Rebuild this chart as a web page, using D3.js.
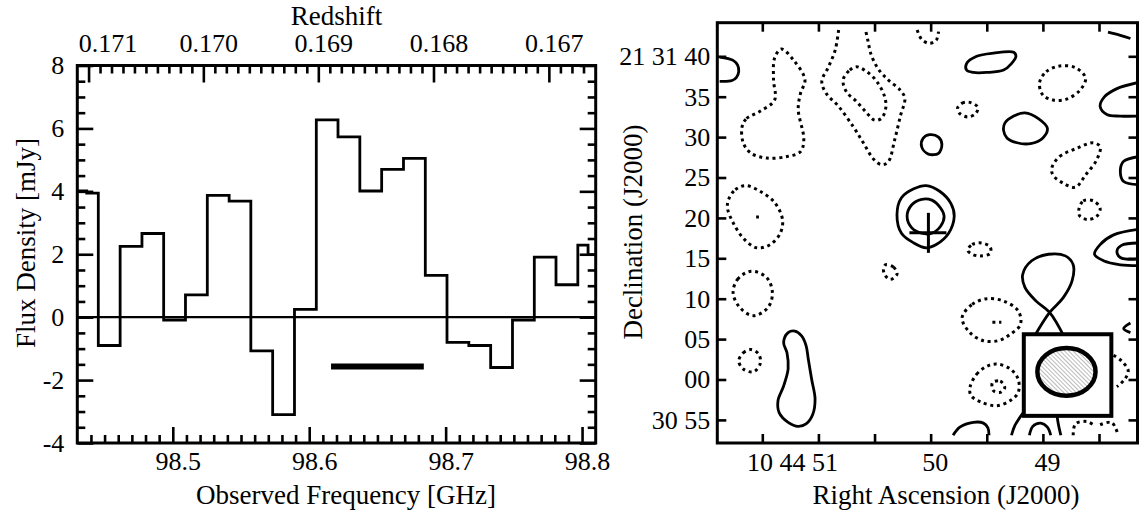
<!DOCTYPE html>
<html><head><meta charset="utf-8">
<script src="https://cdn.jsdelivr.net/npm/d3@7"></script>
<style>
body{margin:0;background:#fff}
svg text{font-family:"Liberation Serif","Times New Roman",serif;fill:#000;font-size:26px}
svg text.title{font-size:27px}
</style></head><body>
<svg id="c" width="1140" height="512"></svg>
<script>
// ---------------- LEFT PANEL DATA (spectrum) ----------------
const restFreqCO = 115.2712; // GHz, CO(1-0)
const freqEdges = [98.430, 98.4369, 98.4454, 98.4614, 98.4774, 98.4933, 98.5093, 98.5253, 98.5413, 98.5572,
  98.5732, 98.5892, 98.6052, 98.6211, 98.6371, 98.6531, 98.6691, 98.6851, 98.7010, 98.7170, 98.7330,
  98.7490, 98.7650, 98.7809, 98.7969, 98.8044, 98.810];
const fluxValues = [4.01, 3.94, -0.90, 2.25, 2.66, -0.09, 0.71, 3.87, 3.69, -1.07, -3.10, 0.25, 6.27,
  5.73, 4.01, 4.70, 5.05, 1.33, -0.80, -0.90, -1.60, -0.09, 1.91, 1.03, 2.29, 1.99];
const lineRange = [98.616, 98.684];
const lineRangeLevel = -1.57;
const freqDomain = [98.430, 98.810];
const fluxDomain = [-4, 8];
const freqMajor = [98.5, 98.6, 98.7, 98.8];
const fluxMajor = [-4, -2, 0, 2, 4, 6, 8];
const redshiftMajor = [0.171, 0.170, 0.169, 0.168, 0.167];
const redshiftLabels = ["0.171", "0.170", "0.169", "0.168", "0.167"];

// ---------------- RIGHT PANEL DATA (map) ----------------
// RA in seconds of 10h44m, Dec in arcsec offset from 21d31m00s
const raDomain = [51.901, 48.157];
const decDomain = [-7.86, 44.16];
const raMajor = [51, 50, 49];
const raLabels = ["10 44 51", "50", "49"];
const raMinor = [51.5, 50.5, 49.5, 48.5];
const decTicks = [40, 35, 30, 25, 20, 15, 10, 5, 0, -5];
const decLabels = ["21 31 40", "35", "30", "25", "20", "15", "10", "05", "00", "30 55"];
const sourcePos = [50.02, 18.15];
const beamCenter = [48.79, 0.95];
const beamFWHM = [7.2, 5.9];
const beamBox = [[49.17, 5.6], [48.39, -4.5]];

const positiveContours = [
 {closed:false, pts:[[51.88,39.9],[51.76,39.5],[51.72,38.9],[51.71,38.1],[51.73,37.4],[51.77,37.0],[51.88,36.9]]},
 {closed:true, pts:[[49.68,39.1],[49.59,40.0],[49.44,40.4],[49.26,40.5],[49.24,40.0],[49.28,39.1],[49.35,38.3],[49.50,38.0],[49.62,38.0],[49.68,38.3]]},
 {closed:false, pts:[[48.42,43.0],[48.31,42.6],[48.22,42.2]]},
 {closed:false, pts:[[48.14,36.8],[48.34,36.0],[48.45,35.0],[48.49,33.8],[48.43,32.8],[48.31,32.6],[48.14,32.6]]},
 {closed:true, pts:[[49.34,31.7],[49.26,32.6],[49.16,33.0],[49.04,32.3],[48.96,31.1],[49.00,29.9],[49.11,29.2],[49.23,29.3],[49.32,29.9],[49.35,30.8]]},
 {closed:true, pts:[[50.07,29.8],[50.01,30.3],[49.93,30.0],[49.90,29.1],[49.93,28.0],[50.02,27.9],[50.08,28.8]]},
 {closed:false, pts:[[48.14,27.6],[48.28,27.0],[48.31,25.8],[48.28,24.5],[48.14,24.1]]},
 {closed:true, pts:[[50.30,20.4],[50.26,22.5],[50.15,23.6],[50.04,24.0],[49.92,23.3],[49.82,21.8],[49.79,20.2],[49.84,18.1],[49.95,16.7],[50.04,16.3],[50.15,16.9],[50.26,18.1]]},
 {closed:true, pts:[[50.21,20.2],[50.17,21.6],[50.08,22.3],[49.99,22.2],[49.91,21.2],[49.88,20.2],[49.91,19.0],[49.99,18.1],[50.08,18.1],[50.17,18.8]]},
 {closed:false, pts:[[48.14,18.6],[48.37,17.9],[48.49,16.7],[48.54,15.5],[48.46,14.7],[48.31,14.2],[48.14,14.1]]},
 {closed:false, pts:[[48.14,16.9],[48.30,16.6],[48.34,15.9],[48.31,15.1],[48.14,14.9]]},
 {closed:false, pts:[[49.09,5.0],[48.94,8.3],[48.82,10.1],[48.74,12.2],[48.73,14.2],[48.80,15.3],[48.95,15.5],[49.10,14.7],[49.18,13.0],[49.16,11.4],[49.06,9.7],[48.94,8.3],[48.80,5.0]]},
 {closed:false, pts:[[48.22,7.0],[48.28,6.3],[48.22,5.8]]},
 {closed:true, pts:[[51.31,4.6],[51.27,5.8],[51.21,6.0],[51.15,5.4],[51.11,4.2],[51.09,2.5],[51.06,0.0],[51.03,-2.4],[51.05,-4.3],[51.11,-5.5],[51.18,-5.8],[51.27,-5.3],[51.35,-4.1],[51.36,-2.6],[51.31,-0.8],[51.27,1.3],[51.28,3.3]]},
 {closed:false, pts:[[49.80,-6.9],[49.74,-5.9],[49.62,-5.3],[49.53,-5.4],[49.49,-6.0],[49.48,-6.9]]},
 {closed:false, pts:[[49.17,-4.0],[49.25,-5.7],[49.28,-6.9]]},
 {closed:false, pts:[[49.12,-6.9],[49.09,-5.8],[49.02,-5.4],[48.96,-5.9],[48.93,-6.9]]},
 {closed:false, pts:[[48.88,-4.0],[48.86,-5.7],[48.84,-6.9]]}
];
const negativeContours = [
 {closed:false, pts:[[50.82,43.25],[50.85,40.8],[50.91,38.7],[50.97,36.9],[50.93,35.4],[50.82,33.8],[50.69,31.3],[50.60,29.3],[50.51,27.3],[50.44,26.6],[50.38,26.9],[50.32,29.7],[50.27,32.6],[50.23,34.8],[50.27,35.8],[50.38,37.1],[50.47,38.5],[50.53,40.2],[50.56,42.0],[50.58,43.25]]},
 {closed:true, pts:[[50.78,37.1],[50.72,38.3],[50.66,38.7],[50.57,38.1],[50.48,36.9],[50.41,35.0],[50.40,33.6],[50.44,32.3],[50.50,32.1],[50.57,33.0],[50.66,34.4],[50.75,35.6]]},
 {closed:true, pts:[[51.68,31.3],[51.64,32.3],[51.52,33.2],[51.39,34.6],[51.40,37.1],[51.39,39.8],[51.33,40.9],[51.22,39.5],[51.12,37.1],[51.16,35.4],[51.18,33.4],[51.13,29.7],[51.16,28.2],[51.28,27.6],[51.46,27.4],[51.60,28.0],[51.67,29.3]]},
 {closed:false, pts:[[50.12,43.25],[50.08,42.1],[50.01,41.6],[49.95,42.0],[49.93,43.05]]},
 {closed:true, pts:[[49.76,33.6],[49.72,34.2],[49.65,34.3],[49.58,33.7],[49.60,32.9],[49.67,32.5],[49.74,32.9]]},
 {closed:true, pts:[[49.03,36.7],[48.97,38.1],[48.85,38.8],[48.71,38.6],[48.62,37.3],[48.67,35.8],[48.79,34.7],[48.91,34.6],[49.00,35.2]]},
 {closed:true, pts:[[48.92,26.2],[48.85,27.6],[48.70,28.6],[48.55,29.3],[48.49,28.8],[48.52,27.2],[48.62,25.3],[48.71,23.8],[48.82,24.3],[48.91,25.3]]},
 {closed:true, pts:[[48.68,21.0],[48.64,22.1],[48.55,22.1],[48.49,21.2],[48.52,20.2],[48.60,19.8],[48.67,20.2]]},
 {closed:true, pts:[[51.80,22.3],[51.74,23.5],[51.65,24.0],[51.52,23.3],[51.39,21.9],[51.32,19.8],[51.34,18.1],[51.43,16.7],[51.55,16.3],[51.67,17.5],[51.76,19.4],[51.81,21.2]]},
 {closed:false, pts:[[51.555,20.1],[51.53,20.1]]},
 {closed:true, pts:[[49.67,16.0],[49.63,16.7],[49.55,16.9],[49.47,16.4],[49.47,15.6],[49.56,15.3],[49.63,15.5]]},
 {closed:true, pts:[[50.40,14.2],[50.33,13.9],[50.30,13.0],[50.36,12.4],[50.41,13.0],[50.42,13.7]]},
 {closed:true, pts:[[51.76,10.7],[51.72,12.4],[51.60,13.4],[51.46,12.6],[51.41,10.7],[51.45,8.9],[51.58,7.9],[51.70,8.9]]},
 {closed:true, pts:[[49.72,7.65],[49.63,9.3],[49.50,10.0],[49.35,9.7],[49.22,8.5],[49.20,6.8],[49.29,5.6],[49.40,4.8],[49.53,4.8],[49.65,5.8]]},
 {closed:false, pts:[[49.45,7.1],[49.37,7.1]]},
 {closed:true, pts:[[51.71,2.3],[51.67,3.3],[51.60,3.7],[51.53,3.1],[51.52,1.9],[51.58,0.95],[51.67,1.3]]},
 {closed:true, pts:[[49.65,-1.0],[49.59,0.66],[49.49,1.7],[49.40,1.9],[49.29,1.3],[49.22,0.04],[49.22,-1.6],[49.29,-2.6],[49.41,-3.25],[49.55,-2.8],[49.64,-2.0]]},
 {closed:true, pts:[[49.45,-0.4],[49.38,-0.2],[49.34,-1.0],[49.38,-1.6],[49.44,-1.4]]},
 {closed:false, pts:[[48.37,3.0],[48.30,2.3],[48.24,1.1],[48.27,0.04],[48.34,-0.9]]},
 {closed:false, pts:[[48.73,-6.9],[48.71,-5.5],[48.61,-5.2],[48.54,-5.7]]},
 {closed:false, pts:[[48.49,-5.6],[48.39,-5.3],[48.35,-6.1],[48.33,-6.9]]}
];

// ---------------- DRAWING ----------------
const svg = d3.select("#c");
const defs = svg.append("defs");
const hatch = defs.append("pattern").attr("id","hatch").attr("patternUnits","userSpaceOnUse")
  .attr("width",3).attr("height",3).attr("patternTransform","rotate(-45)");
hatch.append("rect").attr("width",3).attr("height",3).attr("fill","#fff");
hatch.append("line").attr("x1",0).attr("y1",0).attr("x2",0).attr("y2",3).attr("stroke","#777").attr("stroke-width",1);

function styleAxis(g, w){
  g.select(".domain").remove();
  g.selectAll(".tick line").attr("stroke","#000").attr("stroke-width",w);
  g.selectAll(".tick text").attr("font-family",null).attr("font-size",null).attr("fill","#000");
  g.attr("font-family",null).attr("font-size",null);
}

// ===== Left panel =====
const L = {x0:77.3, x1:595.7, y0:65.5, y1:443};
const xF = d3.scaleLinear().domain(freqDomain).range([L.x0, L.x1]);
const yF = d3.scaleLinear().domain(fluxDomain).range([L.y1, L.y0]);
const gL = svg.append("g");
defs.append("clipPath").attr("id","clipL").append("rect")
  .attr("x",L.x0).attr("y",L.y0).attr("width",L.x1-L.x0).attr("height",L.y1-L.y0);

const freqMinor = d3.range(98.44, 98.805, 0.01).filter(v => !freqMajor.some(m => Math.abs(m-v)<1e-6));
const fluxMinor = d3.range(-3.5, 8, 0.5).filter(v => Math.abs(v - Math.round(v/2)*2) > 1e-6);
const zMinor = d3.range(0.1665, 0.17115, 0.0001).filter(z => !redshiftMajor.some(m => Math.abs(m-z)<1e-7))
  .map(z => restFreqCO/(1+z)).filter(f => f > freqDomain[0]+0.002 && f < freqDomain[1]-0.002);

// bottom
let a = gL.append("g").attr("transform",`translate(0,${L.y1})`)
  .call(d3.axisBottom(xF).tickValues(freqMajor).tickSize(-16).tickPadding(9).tickFormat(d3.format(".1f")));
styleAxis(a, 2.6); a.selectAll(".tick text").attr("dx",5);
a = gL.append("g").attr("transform",`translate(0,${L.y1})`)
  .call(d3.axisBottom(xF).tickValues(freqMinor).tickSize(-8).tickFormat(()=>""));
styleAxis(a, 2.6);
// top (redshift)
a = gL.append("g").attr("transform",`translate(0,${L.y0})`)
  .call(d3.axisTop(xF).tickValues(redshiftMajor.map(z => restFreqCO/(1+z))).tickSize(-17).tickPadding(14)
    .tickFormat((d,i) => redshiftLabels[i]));
styleAxis(a, 2.6);
a.selectAll(".tick text").each(function(d){
  const t = d3.select(this);
  const xc = xF(d) + 5, half = this.getComputedTextLength()/2;
  if (xc - half < L.x0) t.attr("text-anchor","start").attr("x", L.x0 + 1 - xF(d));
  else t.attr("dx",5);
});
a = gL.append("g").attr("transform",`translate(0,${L.y0})`)
  .call(d3.axisTop(xF).tickValues(zMinor).tickSize(-8).tickFormat(()=>""));
styleAxis(a, 2.6);
// left
a = gL.append("g").attr("transform",`translate(${L.x0},0)`)
  .call(d3.axisLeft(yF).tickValues(fluxMajor).tickSize(-16).tickPadding(13).tickFormat(d => String(d)));
styleAxis(a, 2.6);
a = gL.append("g").attr("transform",`translate(${L.x0},0)`)
  .call(d3.axisLeft(yF).tickValues(fluxMinor).tickSize(-8).tickFormat(()=>""));
styleAxis(a, 2.6);
// right
a = gL.append("g").attr("transform",`translate(${L.x1},0)`)
  .call(d3.axisRight(yF).tickValues(fluxMajor).tickSize(-16).tickFormat(()=>""));
styleAxis(a, 2.6);
a = gL.append("g").attr("transform",`translate(${L.x1},0)`)
  .call(d3.axisRight(yF).tickValues(fluxMinor).tickSize(-8).tickFormat(()=>""));
styleAxis(a, 2.6);

// zero line
gL.append("line").attr("x1",xF(freqDomain[0])).attr("x2",xF(freqDomain[1]))
  .attr("y1",yF(0)).attr("y2",yF(0)).attr("stroke","#000").attr("stroke-width",2.4);
// histogram
const stepPts = fluxValues.map((v,i) => [freqEdges[i], v]);
stepPts.push([freqEdges[freqEdges.length-1], fluxValues[fluxValues.length-1]]);
gL.append("path").attr("clip-path","url(#clipL)")
  .attr("d", d3.line().x(d => xF(d[0])).y(d => yF(d[1])).curve(d3.curveStepAfter)(stepPts))
  .attr("fill","none").attr("stroke","#000").attr("stroke-width",2.8).attr("stroke-linejoin","miter");
// line range bar
gL.append("line").attr("x1",xF(lineRange[0])).attr("x2",xF(lineRange[1]))
  .attr("y1",yF(lineRangeLevel)).attr("y2",yF(lineRangeLevel)).attr("stroke","#000").attr("stroke-width",6);
// frame
gL.append("rect").attr("x",L.x0).attr("y",L.y0).attr("width",L.x1-L.x0).attr("height",L.y1-L.y0)
  .attr("fill","none").attr("stroke","#000").attr("stroke-width",3);
// titles
gL.append("text").attr("class","title").attr("x",(L.x0+L.x1)/2).attr("y",25).attr("text-anchor","middle").text("Redshift");
gL.append("text").attr("class","title").attr("x",346).attr("y",504).attr("text-anchor","middle").text("Observed Frequency [GHz]");
gL.append("text").attr("class","title").attr("transform","translate(35,243) rotate(-90)").attr("text-anchor","middle").text("Flux Density [mJy]");

// ===== Right panel =====
const R = {x0:717.3, x1:1137.5, y0:22.7, y1:443};
const xR = d3.scaleLinear().domain(raDomain).range([R.x0, R.x1]);
const yR = d3.scaleLinear().domain(decDomain).range([R.y1, R.y0]);
const gR = svg.append("g");
defs.append("clipPath").attr("id","clipR").append("rect")
  .attr("x",R.x0).attr("y",R.y0).attr("width",R.x1-R.x0).attr("height",R.y1-R.y0);

const lineClosed = d3.line().x(d => xR(d[0])).y(d => yR(d[1])).curve(d3.curveCatmullRomClosed.alpha(0.5));
const lineOpen = d3.line().x(d => xR(d[0])).y(d => yR(d[1])).curve(d3.curveCatmullRom.alpha(0.5));
const cg = gR.append("g").attr("clip-path","url(#clipR)");
cg.selectAll("path.pos").data(positiveContours).join("path").attr("class","pos")
  .attr("d", c => (c.closed ? lineClosed : lineOpen)(c.pts))
  .attr("fill","none").attr("stroke","#000").attr("stroke-width",2.8).attr("stroke-linejoin","round");
cg.selectAll("path.neg").data(negativeContours).join("path").attr("class","neg")
  .attr("d", c => (c.closed ? lineClosed : lineOpen)(c.pts))
  .attr("fill","none").attr("stroke","#000").attr("stroke-width",3).attr("stroke-dasharray","3,3.7");

// source cross
const sx = xR(sourcePos[0]), sy = yR(sourcePos[1]);
gR.append("line").attr("x1",sx).attr("x2",sx).attr("y1",sy-20).attr("y2",sy+20).attr("stroke","#000").attr("stroke-width",3);
gR.append("line").attr("x1",sx-19).attr("x2",sx+18).attr("y1",sy).attr("y2",sy).attr("stroke","#000").attr("stroke-width",3);

// beam box & beam
const pxPerArcsec = Math.abs(yR(1) - yR(0));
gR.append("rect").attr("x",xR(beamBox[0][0])).attr("y",yR(beamBox[0][1]))
  .attr("width",xR(beamBox[1][0])-xR(beamBox[0][0])).attr("height",yR(beamBox[1][1])-yR(beamBox[0][1]))
  .attr("fill","#fff").attr("stroke","#000").attr("stroke-width",4);
gR.append("ellipse").attr("cx",xR(beamCenter[0])).attr("cy",yR(beamCenter[1]))
  .attr("rx",beamFWHM[0]/2*pxPerArcsec).attr("ry",beamFWHM[1]/2*pxPerArcsec)
  .attr("fill","url(#hatch)").attr("stroke","#000").attr("stroke-width",4.5);

// axes
a = gR.append("g").attr("transform",`translate(0,${R.y1})`)
  .call(d3.axisBottom(xR).tickValues(raMajor).tickSize(-9).tickPadding(10).tickFormat((d,i)=>raLabels[i]));
styleAxis(a, 2.6);
a.selectAll(".tick text").each(function(d,i){
  const t = d3.select(this);
  if (i === 0) t.attr("text-anchor","end").attr("dx",19); else t.attr("dx",4);
});
a = gR.append("g").attr("transform",`translate(0,${R.y1})`)
  .call(d3.axisBottom(xR).tickValues(raMinor).tickSize(-9).tickFormat(()=>""));
styleAxis(a, 2.6);
a = gR.append("g").attr("transform",`translate(0,${R.y0})`)
  .call(d3.axisTop(xR).tickValues(raMajor.concat(raMinor)).tickSize(-9).tickFormat(()=>""));
styleAxis(a, 2.6);
a = gR.append("g").attr("transform",`translate(${R.x0},0)`)
  .call(d3.axisLeft(yR).tickValues(decTicks).tickSize(-9).tickPadding(7).tickFormat((d,i)=>decLabels[i]));
styleAxis(a, 2.6);
a = gR.append("g").attr("transform",`translate(${R.x1},0)`)
  .call(d3.axisRight(yR).tickValues(decTicks).tickSize(-9).tickFormat(()=>""));
styleAxis(a, 2.6);

gR.append("rect").attr("x",R.x0).attr("y",R.y0).attr("width",R.x1-R.x0).attr("height",R.y1-R.y0)
  .attr("fill","none").attr("stroke","#000").attr("stroke-width",3);
gR.append("text").attr("class","title").attr("x",946).attr("y",504).attr("text-anchor","middle").text("Right Ascension (J2000)");
gR.append("text").attr("class","title").attr("transform","translate(642,232) rotate(-90)").attr("text-anchor","middle").text("Declination (J2000)");
</script></body></html>
